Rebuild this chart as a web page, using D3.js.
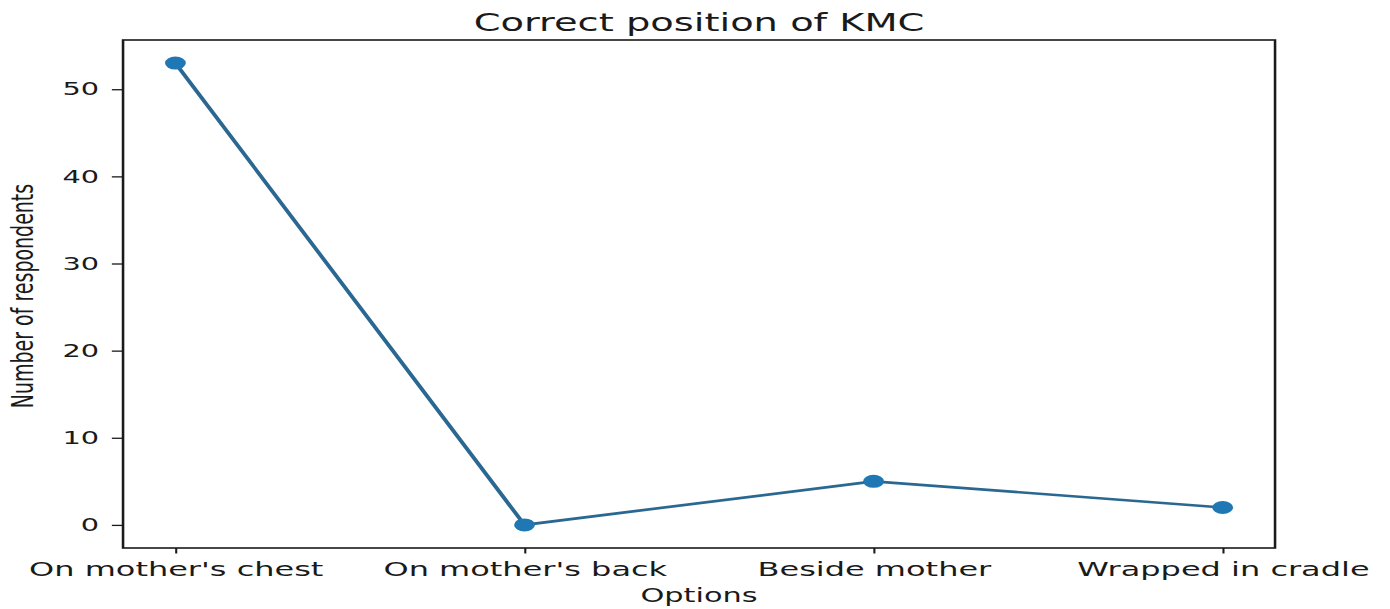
<!DOCTYPE html>
<html>
<head>
<meta charset="utf-8">
<script src="https://cdn.jsdelivr.net/npm/d3@7"></script>
<style>
  body { margin: 0; background: #fff; }
  svg { display: block; font-family: "DejaVu Sans", sans-serif; }
</style>
</head>
<body>
<svg></svg>
<script>
let width = 1390, height = 609;
// the picture is stretched sideways, so draw in a narrower space and scale it out
let stretch = 1.6;

let options = ["On mother's chest", "On mother's back", "Beside mother", "Wrapped in cradle"];
let respondents = [53, 0, 5, 2];
let yTicks = [0, 10, 20, 30, 40, 50];

let svg = d3.select("svg")
    .attr("width", width)
    .attr("height", height);

let g = svg.append("g")
    .attr("transform", "scale(" + stretch + ",1)");

let plotLeft = 76.9, plotRight = 796.9, plotTop = 40, plotBottom = 548;

// matplotlib style 5% margins
let x = d3.scaleLinear().domain([-0.15, 3.15]).range([plotLeft, plotRight]);
let y = d3.scaleLinear().domain([-2.65, 55.65]).range([plotBottom, plotTop]);

// y axis
let yAxis = g.append("g")
    .attr("transform", "translate(" + plotLeft + ",0)")
    .call(d3.axisLeft(y).tickValues(yTicks).tickSize(7).tickPadding(8));
yAxis.select(".domain").remove();
yAxis.selectAll("line").attr("stroke", "#1a1a1a").attr("stroke-width", 1.3);
yAxis.selectAll("text")
    .attr("fill", "#1a1a1a")
    .style("font-size", "18px")
    .style("font-family", "DejaVu Sans");

// x axis
let xAxis = g.append("g")
    .attr("transform", "translate(0," + plotBottom + ")")
    .call(d3.axisBottom(x).tickValues([0, 1, 2, 3]).tickFormat(i => options[i]).tickSize(5.5).tickPadding(8));
xAxis.select(".domain").remove();
xAxis.selectAll("line").attr("stroke", "#1a1a1a").attr("stroke-width", 1.3);
xAxis.selectAll("text")
    .attr("fill", "#1a1a1a")
    .style("font-size", "20px")
    .style("font-family", "DejaVu Sans");

// frame
g.append("rect")
    .attr("x", plotLeft)
    .attr("y", plotTop)
    .attr("width", plotRight - plotLeft)
    .attr("height", plotBottom - plotTop)
    .attr("fill", "none")
    .attr("stroke", "#1a1a1a")
    .attr("stroke-width", 1.6);

// line + markers
let line = d3.line()
    .x((d, i) => x(i))
    .y(d => y(d));

g.append("path")
    .datum(respondents)
    .attr("d", line)
    .attr("fill", "none")
    .attr("stroke", "#2a6892")
    .attr("stroke-width", 2.7);

g.append("g")
    .selectAll("circle")
    .data(respondents)
    .enter()
    .append("circle")
    .attr("cx", (d, i) => x(i))
    .attr("cy", d => y(d))
    .attr("r", 6.5)
    .attr("fill", "#1f77b4");

// title and labels
g.append("text")
    .attr("x", (plotLeft + plotRight) / 2)
    .attr("y", 31)
    .attr("text-anchor", "middle")
    .attr("fill", "#1a1a1a")
    .style("font-size", "24px")
    .text("Correct position of KMC");

g.append("text")
    .attr("x", (plotLeft + plotRight) / 2)
    .attr("y", 602)
    .attr("text-anchor", "middle")
    .attr("fill", "#1a1a1a")
    .style("font-size", "19px")
    .text("Options");

g.append("text")
    .attr("transform", "translate(20.5,296) rotate(-90)")
    .attr("text-anchor", "middle")
    .attr("fill", "#1a1a1a")
    .style("font-size", "19px")
    .text("Number of respondents");
</script>
</body>
</html>
